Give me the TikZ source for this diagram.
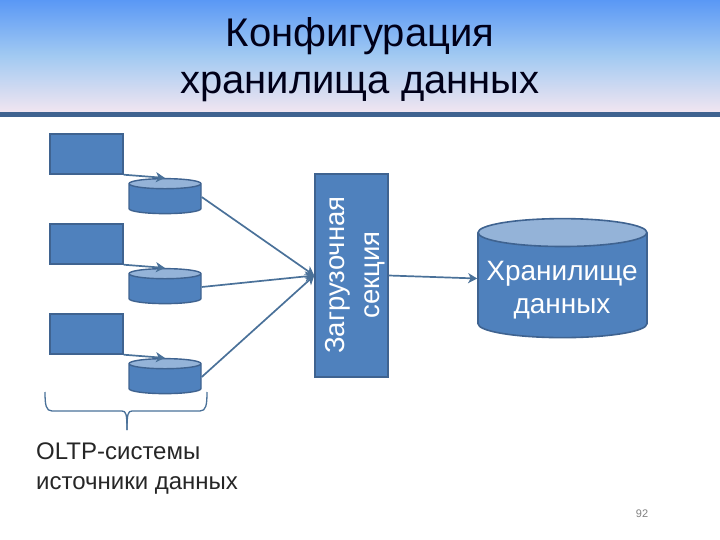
\documentclass[tikz,border=0pt]{standalone}
\usepackage{fontspec}
\setmainfont{Liberation Sans}
\usetikzlibrary{shapes.geometric,arrows.meta}
\definecolor{boxblue}{HTML}{4F81BD}
\definecolor{boxedge}{HTML}{3F6390}
\definecolor{endblue}{HTML}{94B3D8}
\definecolor{linkblue}{HTML}{4A7199}
\definecolor{headtop}{HTML}{5A98F5}
\definecolor{headmid}{HTML}{A2CAF2}
\definecolor{headlow}{HTML}{F1E5F1}
\tikzset{
  srcbox/.style={draw=boxedge, fill=boxblue, line width=1.4pt, minimum width=73pt, minimum height=40pt, inner sep=0pt},
  dbsmall/.style={cylinder, shape border rotate=90, draw=boxedge, line width=1.4pt, cylinder uses custom fill, cylinder body fill=boxblue, cylinder end fill=endblue, text width=72pt, minimum width=72pt, minimum height=35pt, aspect=0.14, inner sep=0pt},
  link/.style={draw=linkblue, line width=1.7pt, -{Stealth[length=9pt,width=10pt,inset=2.5pt]}},
}
\begin{document}
\begin{tikzpicture}[x=1pt, y=-1pt]
\useasboundingbox (0,0) rectangle (720,540);
\shade[top color=headtop, bottom color=headlow, middle color=headmid] (0,0) rectangle (720,112);
\fill[boxedge] (0,112) rectangle (720,117);
\node[anchor=base, inner sep=0pt, text=black!90!blue, font=\fontsize{40}{47}\selectfont] (T1) at (360,47) {Конфигурация};
\node[anchor=base, inner sep=0pt, text=black!90!blue, font=\fontsize{40}{47}\selectfont] (T2) at (360,94) {хранилища данных};
\node[srcbox] (R1) at (86.5,154) {};
\node[srcbox] (R2) at (86.5,244) {};
\node[srcbox] (R3) at (86.5,334) {};
\node[dbsmall] (D1) at (165,199) {};
\node[dbsmall] (D2) at (165,289) {};
\node[dbsmall] (D3) at (165,379) {};
\node[draw=boxedge, fill=boxblue, line width=1.4pt, minimum width=73pt, minimum height=203pt, inner sep=0pt] (L) at (351.5,275.5) {};
\node[rotate=90, inner sep=0pt, align=center, text=white, font=\fontsize{27.5}{35}\selectfont] (L1) at (355,275) {Загрузочная\\секция};
\node[cylinder, shape border rotate=90, draw=boxedge, line width=1.6pt, cylinder uses custom fill, cylinder body fill=boxblue, cylinder end fill=endblue, text width=169pt, minimum width=169pt, minimum height=119pt, aspect=0.165, inner sep=0pt] (W) at (562.5,285.5) {};
\node[anchor=base, inner sep=0pt, text=white, font=\fontsize{28}{33}\selectfont] (W1) at (562,280) {Хранилище};
\node[anchor=base, inner sep=0pt, text=white, font=\fontsize{28}{33}\selectfont] (W2) at (562,313) {данных};
\draw[link] (R1.south east) -- (D1.north);
\draw[link] (R2.south east) -- (D2.north);
\draw[link] (R3.south east) -- (D3.north);
\draw[link] ([yshift=2pt]D1.east) -- (L.west);
\draw[link] ([yshift=2pt]D2.east) -- (L.west);
\draw[link] ([yshift=2pt]D3.east) -- (L.west);
\draw[link] (L.east) -- ([yshift=7pt]W.west);
\draw[linkblue, line width=1.3pt] (45,392) .. controls (45,405) and (46,411) .. (52,411) -- (122,411) .. controls (126,411) and (127,414) .. (127,430);
\draw[linkblue, line width=1.3pt] (207,392) .. controls (207,405) and (206,411) .. (200,411) -- (132,411) .. controls (128,411) and (127,414) .. (127,430);
\node[anchor=base west, inner sep=0pt, font=\fontsize{24}{30}\selectfont, black!85] (S1) at (36,459) {OLTP-системы};
\node[anchor=base west, inner sep=0pt, font=\fontsize{24}{30}\selectfont, black!85] (S2) at (36,489) {источники данных};
\node[text=black!50, inner sep=0pt, font=\fontsize{11}{12}\selectfont] (N) at (642,514) {92};
\end{tikzpicture}
\end{document}
